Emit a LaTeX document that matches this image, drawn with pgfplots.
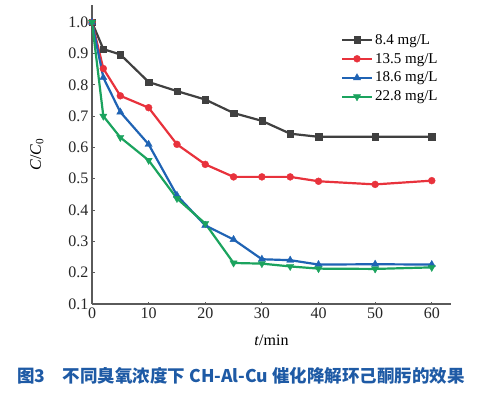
\documentclass[border=0pt]{standalone}
\usepackage{pgfplots}
\pgfplotsset{compat=1.18}
\usepackage{fontspec}
\setmainfont{Liberation Serif}
\newfontfamily\cjk{Noto Sans CJK SC}
\definecolor{cblack}{HTML}{404040}
\definecolor{cred}{HTML}{E8323C}
\definecolor{cblue}{HTML}{1F63B4}
\definecolor{cgreen}{HTML}{1BA35E}
\definecolor{caxis}{HTML}{5A5A5A}
\definecolor{ccap}{HTML}{1E5AA5}
\begin{document}
\begin{tikzpicture}
\useasboundingbox (0,0) rectangle (481pt,392pt);
\begin{axis}[
  at={(92pt,88pt)}, anchor=south west,
  scale only axis, width=359pt, height=299pt,
  xmin=0, xmax=63.4, ymin=0.1, ymax=1.055,
  axis x line=bottom, axis y line=left,
  axis line style={caxis, line width=1.4pt, -},
  xtick={0,10,...,60},
  ytick={0.1,0.2,...,1.0},
  yticklabel style={/pgf/number format/fixed,/pgf/number format/precision=1,/pgf/number format/fixed zerofill},
  /pgf/number format/assume math mode=true,
  tick align=inside, major tick length=2.5pt,
  tick style={caxis, line width=0.8pt},
  ticklabel style={font=\fontsize{16}{18}\selectfont, text=black!85},
  xlabel={\textit{t}/min},
  ylabel={\textit{C}/\textit{C}\textsubscript{0}},
  label style={font=\fontsize{16}{18}\selectfont},
  xlabel style={yshift=-10pt},
  ylabel style={yshift=18pt},
  every axis plot/.append style={line width=2.2pt},
  legend style={at={(0.69,0.91)}, anchor=north west, draw=none, fill=none,
     font=\fontsize{15}{17}\selectfont, row sep=5.5pt, inner sep=1pt,
     nodes={inner xsep=2pt, inner ysep=1pt}},
  legend cell align=left,
  legend image code/.code={\draw[mark repeat=2,mark phase=2,#1] plot coordinates {(0pt,0pt) (15pt,0pt) (30pt,0pt)};},
]
\addplot[cblack, mark=square*, mark size=3.2pt, mark options={solid, line width=0.3pt}] coordinates {
(0,1.0) (2,0.914) (5,0.897) (10,0.809) (15,0.78) (20,0.753) (25,0.71) (30,0.685) (35,0.644) (40,0.634) (50,0.634) (60,0.634)};
\addlegendentry{8.4 mg/L}
\addplot[cred, mark=*, mark size=3.5pt, mark options={solid, line width=0.3pt}] coordinates {
(0,1.0) (2,0.852) (5,0.765) (10,0.727) (15,0.61) (20,0.546) (25,0.506) (30,0.506) (35,0.506) (40,0.492) (50,0.482) (60,0.494)};
\addlegendentry{13.5 mg/L}
\addplot[cblue, mark=triangle*, mark size=4.2pt, mark options={solid, line width=0.3pt}] coordinates {
(0,1.0) (2,0.823) (5,0.713) (10,0.61) (15,0.447) (20,0.351) (25,0.306) (30,0.243) (35,0.24) (40,0.226) (50,0.227) (60,0.226)};
\addlegendentry{18.6 mg/L}
\addplot[cgreen, mark=triangle*, mark options={solid, line width=0.3pt, rotate=180}, mark size=4.2pt] coordinates {
(0,1.0) (2,0.70) (5,0.632) (10,0.559) (15,0.437) (20,0.357) (25,0.231) (30,0.229) (35,0.22) (40,0.213) (50,0.212) (60,0.217)};
\addlegendentry{22.8 mg/L}
\end{axis}
\node[anchor=base, text=ccap, font=\cjk\bfseries\fontsize{17.5}{20}\selectfont] at (241pt,10pt) {图3\hspace{1em}不同臭氧浓度下 CH-Al-Cu 催化降解环己酮肟的效果};
\end{tikzpicture}
\end{document}
